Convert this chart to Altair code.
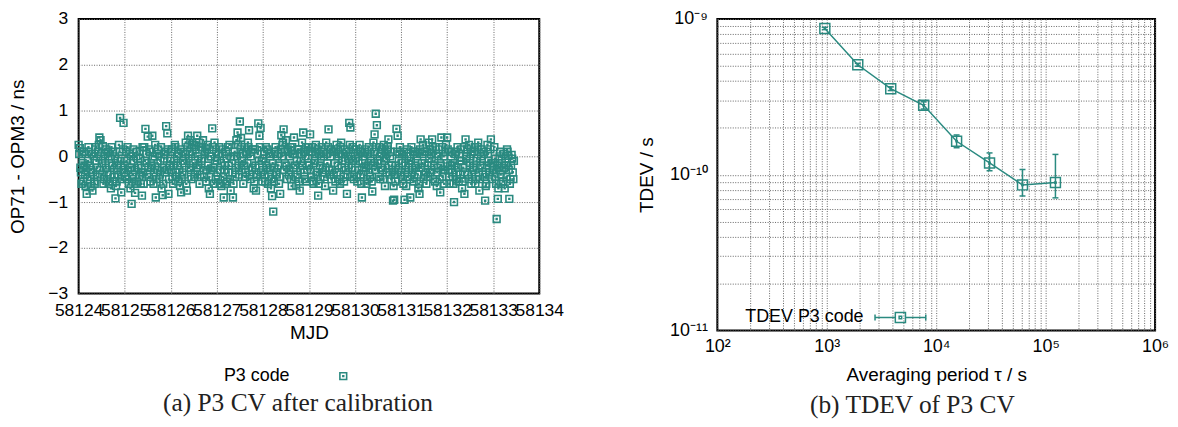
import altair as alt
import pandas as pd

TEAL = "#2a8a80"
AX_FONT = "Liberation Sans"
CAP_FONT = "Liberation Serif"

MJD_START = 58124.0
STEP = 0.025          # spacing inside each pass; pass B is offset by half a step
DAY_58124 = [0.25, 0.18, -0.35, 0.05, -0.55, -0.2, -0.65, -0.82, -0.1, 0.1,
             -0.45, -0.3, -0.75, 0.0, -0.6, 0.2, -0.25, 0.1, 0.41, 0.35,
             -0.15, 0.22, -0.5, -0.05, 0.15, -0.35, -0.6, 0.0, -0.7, -0.2,
             0.1, -0.45, -0.92, -0.55, -0.1, 0.25, 0.84, -0.79, -0.3, 0.73]
DAY_58125 = [-0.2, 0.1, -0.5, -0.3, 0.05, -0.7, -1.04, -0.4, -0.1, -0.8,
             0.0, -0.55, -0.25, 0.12, -0.6, -0.86, -0.35, 0.2, 0.6, -0.15,
             0.43, -0.45, 0.1, -0.25, 0.45, -0.6, 0.0, -0.9, -0.3, 0.15,
             -0.5, -0.1, -0.7, -0.85, 0.05, -0.35, 0.66, 0.5, -0.82, -0.2]
DAY_58126 = [-0.3, 0.15, -0.6, -0.1, 0.2, -0.45, -0.2, 0.05, -0.65, -0.79,
             -0.35, 0.1, -0.15, 0.3, -0.75, 0.45, -0.25, 0.35, -0.5, 0.05,
             0.25, -0.4, 0.3, 0.45, -0.2, -0.6, 0.2, -0.05, 0.35, -0.45,
             0.1, -0.3, 0.25, -0.7, -0.82, 0.0, 0.61, -0.25, 0.3, -0.5]
DAY_58127 = [-0.1, -0.5, 0.2, -0.3, -0.65, 0.05, -0.9, -0.2, 0.1, -0.55,
             -0.35, 0.25, -0.75, -0.15, -0.9, 0.0, -0.45, 0.35, 0.52, -0.2,
             0.76, 0.4, -0.1, -0.6, 0.2, -0.35, 0.05, 0.3, 0.57, -0.5,
             0.1, -0.25, -0.7, 0.15, -0.75, -0.4, 0.72, 0.45, 0.62, -0.1]
DAY_58128 = [-0.3, 0.1, -0.55, -0.2, 0.15, -0.45, 0.0, -0.7, -0.87, -1.21,
             -0.25, 0.2, -0.4, 0.05, -0.6, -0.82, 0.46, 0.25, 0.59, -0.15,
             0.35, -0.5, 0.1, -0.3, 0.2, -0.65, 0.05, 0.41, -0.2, -0.64,
             -0.4, 0.15, -0.75, -0.1, 0.3, 0.52, -0.35, 0.0, -0.55, 0.2]
DAY_58129 = [-0.2, 0.48, -0.45, 0.1, -0.6, -0.1, 0.25, -0.35, -0.86, 0.05,
             -0.5, 0.2, -0.25, 0.0, -0.65, 0.3, -0.15, 0.59, -0.4, 0.15,
             -0.3, -0.75, 0.1, -0.55, 0.25, -0.2, 0.05, -0.6, 0.3, -0.1,
             -0.45, 0.15, -0.3, -0.82, 0.0, 0.73, 0.63, -0.25, 0.2, -0.5]
DAY_58130 = [-0.3, 0.15, -0.55, -0.1, 0.25, -0.4, -0.9, 0.0, -0.25, 0.1,
             -0.6, -0.2, 0.2, -0.45, -0.1, -0.77, 0.3, 0.48, 0.93, 0.68,
             -0.15, 0.2, -0.5, 0.05, -0.3, 0.25, -0.65, -0.05, 0.15, 0.37,
             -0.4, 0.1, -0.2, -0.97, -0.95, -0.55, 0.6, 0.45, -0.1, 0.2]
DAY_58131 = [-0.35, 0.05, -0.6, -0.95, -0.2, 0.15, -0.45, -0.1, -0.9, 0.2,
             -0.3, -0.55, 0.1, -0.25, 0.0, -0.7, -0.82, 0.37, -0.15, 0.25,
             -0.4, 0.1, -0.6, -0.2, 0.3, -0.35, 0.05, 0.37, -0.5, -0.1,
             0.2, -0.65, -0.25, 0.15, -0.79, 0.41, -0.45, 0.0, -0.3, 0.25]
DAY_58132 = [0.41, -0.3, -0.6, 0.1, -0.2, -0.45, -1.0, 0.05, -0.35, 0.2,
             -0.55, -0.1, 0.15, -0.7, -0.25, -0.82, 0.37, 0.0, -0.4, 0.25,
             -0.15, -0.6, 0.1, -0.3, 0.2, -0.5, -0.05, 0.3, -0.75, -0.2,
             0.15, -0.4, 0.05, -0.97, -0.6, 0.25, -0.1, -0.35, 0.37, -0.5]
DAY_58133 = [-0.15, 0.2, -0.45, -1.37, -0.93, -0.25, 0.1, -0.6, -0.3, 0.05,
             -0.7, -0.2, 0.15, 0.01, -0.93, -0.5, 0.03, -0.35, -0.1]

DAY_58124_B = [0.05, -0.25, -0.6, -0.15, 0.1, -0.4, -0.3, -0.5, 0.2, -0.2,
               -0.65, 0.05, -0.35, -0.55, 0.15, -0.1, -0.45, 0.25, -0.3, 0.0,
               -0.4, -0.6, 0.05, -0.25, -0.5, 0.1, -0.15, -0.4, 0.2, -0.55,
               -0.3, 0.0, -0.65, -0.2, -0.4, 0.1, -0.1, -0.5, 0.15, -0.35]
DAY_58125_B = [-0.45, -0.1, 0.2, -0.6, -0.25, 0.0, -0.5, 0.15, -0.3, -0.6,
               0.1, -0.2, -0.45, -0.05, -0.35, 0.2, -0.6, -0.1, 0.05, -0.4,
               -0.25, 0.15, -0.55, -0.2, 0.0, -0.35, 0.25, -0.5, -0.15, 0.05,
               -0.4, 0.2, -0.25, -0.6, -0.05, 0.1, -0.3, 0.15, -0.5, -0.1]
DAY_58126_B = [0.1, -0.45, -0.2, 0.25, -0.35, 0.0, -0.55, -0.3, 0.15, -0.5,
               -0.1, -0.4, 0.05, -0.6, 0.2, -0.05, 0.1, -0.3, 0.25, -0.15,
               -0.45, 0.15, -0.25, 0.0, 0.3, -0.4, -0.1, 0.2, -0.3, 0.05,
               -0.55, 0.15, -0.2, -0.45, 0.0, -0.3, 0.2, -0.6, -0.1, 0.1]
DAY_58127_B = [-0.35, 0.05, -0.6, -0.15, 0.15, -0.45, -0.3, -0.6, -0.05, 0.2,
               -0.2, -0.5, 0.0, -0.35, -0.6, 0.1, -0.25, 0.0, 0.25, -0.4,
               0.15, -0.3, 0.05, -0.2, -0.45, 0.1, -0.15, 0.2, -0.4, 0.0,
               -0.3, 0.15, -0.55, -0.2, -0.45, 0.05, -0.1, 0.2, -0.35, -0.55]
DAY_58128_B = [-0.05, -0.4, 0.2, -0.25, -0.6, 0.05, -0.3, -0.5, -0.15, -0.55,
               0.1, -0.35, 0.0, -0.2, -0.45, 0.15, 0.0, 0.3, -0.3, 0.1,
               -0.2, 0.15, -0.4, 0.0, -0.5, 0.2, -0.25, 0.05, -0.45, -0.1,
               0.15, -0.55, -0.3, 0.05, -0.2, 0.1, -0.5, 0.2, -0.3, -0.05]
DAY_58129_B = [0.1, -0.3, 0.2, -0.55, -0.15, 0.05, -0.4, 0.15, -0.6, -0.2,
               0.0, -0.35, 0.1, -0.45, -0.25, 0.05, 0.2, -0.3, 0.0, -0.5,
               0.1, -0.4, -0.15, 0.15, -0.35, 0.0, -0.5, 0.2, -0.25, 0.05,
               -0.55, -0.1, 0.1, -0.4, -0.2, 0.25, 0.0, -0.45, -0.1, 0.15]
DAY_58130_B = [-0.05, -0.45, 0.05, -0.3, 0.1, -0.6, -0.15, -0.4, 0.15, -0.25,
               -0.5, 0.05, -0.35, 0.0, -0.55, -0.2, 0.1, -0.3, 0.2, -0.1,
               -0.45, 0.0, -0.25, 0.15, -0.5, -0.1, 0.05, -0.35, 0.2, -0.2,
               0.0, -0.5, -0.3, -0.65, -0.4, -0.2, 0.1, -0.3, 0.05, -0.4]
DAY_58131_B = [-0.15, -0.5, 0.1, -0.3, -0.65, 0.0, -0.25, -0.5, -0.1, -0.35,
               0.1, -0.45, -0.2, 0.05, -0.4, -0.6, 0.15, -0.25, 0.05, -0.5,
               -0.15, -0.35, 0.1, -0.45, -0.05, 0.15, -0.3, 0.2, -0.2, -0.55,
               0.05, -0.35, 0.0, -0.5, -0.2, 0.2, -0.3, -0.6, 0.1, -0.15]
DAY_58132_B = [0.15, -0.45, -0.2, 0.0, -0.35, -0.6, -0.15, 0.1, -0.5, -0.25,
               0.05, -0.4, -0.1, -0.55, 0.2, -0.35, -0.05, 0.15, -0.5, -0.2,
               0.05, -0.4, -0.25, 0.1, -0.6, -0.1, 0.2, -0.35, -0.5, 0.0,
               -0.25, 0.1, -0.45, -0.65, -0.2, 0.05, -0.4, 0.15, -0.15, -0.3]
DAY_58133_B = [-0.3, -0.05, -0.6, -0.2, -0.7, 0.0, -0.4, -0.15, -0.55, -0.25,
               -0.05, -0.45, 0.1, -0.3, -0.6, -0.2, -0.05, -0.5]

CV_A = (DAY_58124 + DAY_58125 + DAY_58126 + DAY_58127 + DAY_58128 +
        DAY_58129 + DAY_58130 + DAY_58131 + DAY_58132 + DAY_58133)
CV_B = (DAY_58124_B + DAY_58125_B + DAY_58126_B + DAY_58127_B + DAY_58128_B +
        DAY_58129_B + DAY_58130_B + DAY_58131_B + DAY_58132_B + DAY_58133_B)
CV_MJD = ([MJD_START + i * STEP for i in range(len(CV_A))] +
          [MJD_START + STEP / 2 + i * STEP for i in range(len(CV_B))])
CV_VALUES = CV_A + CV_B

X_TICKS_LEFT = [58124, 58125, 58126, 58127, 58128, 58129, 58130, 58131, 58132, 58133, 58134]
Y_TICKS_LEFT = [-3, -2, -1, 0, 1, 2, 3]
LEFT_SERIES = "P3 code"

# ---------------- right panel: TDEV ----------------
TAU = [960, 1920, 3840, 7680, 15360, 30720, 61440, 122880]
TDEV = [8.7e-10, 5.08e-10, 3.57e-10, 2.79e-10, 1.64e-10, 1.19e-10, 8.6e-11, 8.9e-11]
TDEV_LO = [8.55e-10, 4.97e-10, 3.47e-10, 2.64e-10, 1.49e-10, 1.06e-10, 7.3e-11, 7.1e-11]
TDEV_HI = [8.85e-10, 5.19e-10, 3.67e-10, 2.94e-10, 1.80e-10, 1.38e-10, 1.08e-10, 1.35e-10]
X_GRID = [m * 10 ** e for e in range(2, 6) for m in range(1, 10)] + [10 ** 6]
Y_GRID = [m * 10.0 ** e for e in (-11, -10) for m in range(1, 10)] + [1e-9]
RIGHT_SERIES = "TDEV P3 code"

SQUARE = "M-1,-1H1V1H-1ZM-0.12,-0.12H0.12V0.12H-0.12Z"
CAP = "M-1,0H1"
ERR_SYMBOL = ("M-1,0H-0.2M0.2,0H1M-1,-0.12V0.12M1,-0.12V0.12"
              "M-0.2,-0.2H0.2V0.2H-0.2ZM-0.05,-0.05H0.05V0.05H-0.05Z")

left_df = pd.DataFrame({"MJD": CV_MJD, "diff": CV_VALUES})
right_df = pd.DataFrame({"tau": TAU, "tdev": TDEV, "lo": TDEV_LO, "hi": TDEV_HI})
left_key = pd.DataFrame({"label": [LEFT_SERIES]})
right_key = pd.DataFrame({"label": [RIGHT_SERIES]})

# ---- left ----
pts_left = alt.Chart(left_df).mark_point(
    shape=SQUARE, filled=False, size=46, strokeWidth=1.6, opacity=1, color=TEAL
).encode(
    x=alt.X("MJD:Q", scale=alt.Scale(domain=[58124, 58134], nice=False, zero=False),
            axis=alt.Axis(values=X_TICKS_LEFT, format="d", title="MJD",
                          labelOverlap=False, labelFlush=False, labelPadding=8,
                          titlePadding=5, labelFontSize=17.5)),
    y=alt.Y("diff:Q", scale=alt.Scale(domain=[-3, 3], nice=False),
            axis=alt.Axis(values=Y_TICKS_LEFT, title="OP71 - OPM3 / ns",
                          labelPadding=11, titlePadding=20, labelFontSize=17.5)),
)
key_text_left = alt.Chart(left_key).mark_text(
    align="right", baseline="middle", font=AX_FONT, fontSize=18, color="black"
).encode(text="label:N", x=alt.value(212), y=alt.value(359))
key_sym_left = alt.Chart(left_key).mark_point(
    shape=SQUARE, filled=False, size=46, strokeWidth=1.6, opacity=1, color=TEAL
).encode(x=alt.value(266), y=alt.value(359))

left = alt.layer(pts_left, key_text_left, key_sym_left).properties(
    width=463, height=276,
    title=alt.TitleParams("(a) P3 CV after calibration", orient="bottom", font=CAP_FONT,
                          fontSize=25.5, fontWeight="normal", color="#222", offset=6, dx=-11),
)

# ---- right ----
xlab = ("abs(datum.value/100-1)<1e-6 ? '10\u00b2' : abs(datum.value/1000-1)<1e-6 ? '10\u00b3' : "
        "abs(datum.value/10000-1)<1e-6 ? '10\u2074' : abs(datum.value/100000-1)<1e-6 ? '10\u2075' : "
        "abs(datum.value/1000000-1)<1e-6 ? '10\u2076' : ''")
ylab = ("abs(datum.value/1e-9-1)<1e-6 ? '10\u207b\u2079' : abs(datum.value/1e-10-1)<1e-6 ? "
        "'10\u207b\u00b9\u2070' : abs(datum.value/1e-11-1)<1e-6 ? '10\u207b\u00b9\u00b9' : ''")

xs = alt.Scale(type="log", domain=[100, 1e6], nice=False)
ys = alt.Scale(type="log", domain=[1e-11, 1e-9], nice=False)

base = alt.Chart(right_df)
line = base.mark_line(color=TEAL, strokeWidth=1.5).encode(
    x=alt.X("tau:Q", scale=xs,
            axis=alt.Axis(values=X_GRID, labelExpr=xlab, title="Averaging period \u03c4 / s",
                          labelOverlap=False, labelFlush=False, labelPadding=7,
                          titlePadding=10, labelFontSize=18)),
    y=alt.Y("tdev:Q", scale=ys,
            axis=alt.Axis(values=Y_GRID, labelExpr=ylab, title="TDEV / s", labelOverlap=False,
                          labelFlush=False, labelPadding=10, titlePadding=13, labelFontSize=18)),
)
bars = base.mark_rule(color=TEAL, strokeWidth=1.5).encode(
    x="tau:Q", y="lo:Q", y2="hi:Q")
cap_lo = base.mark_point(shape=CAP, size=36, filled=False, color=TEAL, strokeWidth=1.5,
                         opacity=1).encode(x="tau:Q", y="lo:Q")
cap_hi = base.mark_point(shape=CAP, size=36, filled=False, color=TEAL, strokeWidth=1.5,
                         opacity=1).encode(x="tau:Q", y="hi:Q")
pts = base.mark_point(shape=SQUARE, size=100, filled=False, strokeWidth=1.5, opacity=1,
                      color=TEAL).encode(x="tau:Q", y="tdev:Q")
key_text_right = alt.Chart(right_key).mark_text(
    align="right", baseline="middle", font=AX_FONT, fontSize=18, color="black"
).encode(text="label:N", x=alt.value(147), y=alt.value(300))
key_sym_right = alt.Chart(right_key).mark_point(
    shape=ERR_SYMBOL, filled=False, size=2600, strokeWidth=1.5, opacity=1, color=TEAL
).encode(x=alt.value(184), y=alt.value(300))

right = alt.layer(line, bars, cap_lo, cap_hi, pts, key_text_right, key_sym_right).properties(
    width=440, height=313,
    title=alt.TitleParams("(b) TDEV of P3 CV", orient="bottom", font=CAP_FONT,
                          fontSize=25.5, fontWeight="normal", color="#222", offset=9, dx=-24),
)

chart = alt.hconcat(left, right, spacing=71).properties(
    padding={"left": 0, "top": 0, "right": 0, "bottom": 0}
).configure_view(
    stroke="black", strokeWidth=2
).configure_axis(
    labelFont=AX_FONT, labelFontSize=16, labelColor="black",
    titleFont=AX_FONT, titleFontSize=19, titleFontWeight="normal", titleColor="black",
    grid=True, gridColor="#666", gridDash=[1, 1.5], gridWidth=1, gridOpacity=1,
    ticks=False, domain=False,
).configure_title(anchor="middle")

chart.save("out.html", embed_options={"renderer": "svg", "actions": False})
